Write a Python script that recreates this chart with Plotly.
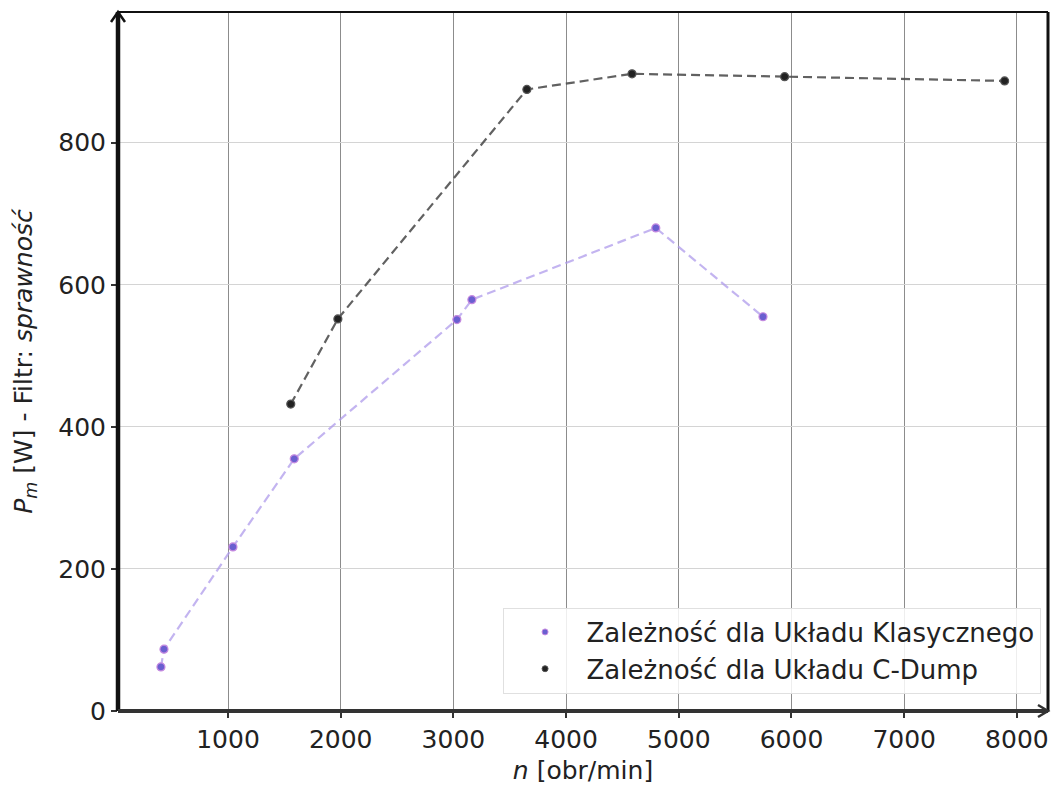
import plotly.graph_objects as go

# Data
klas_n = [405, 432, 1044, 1588, 3031, 3164, 4796, 5747]
klas_p = [62, 87, 231, 355, 551, 579, 680, 555]
cdump_n = [1557, 1975, 3652, 4585, 5939, 7891]
cdump_p = [432, 552, 875, 897, 893, 887]

x_ticks = [1000, 2000, 3000, 4000, 5000, 6000, 7000, 8000]
y_ticks = [0, 200, 400, 600, 800]

name_klas = "Zależność dla Układu Klasycznego"
name_cdump = "Zależność dla Układu C-Dump"

FONT = "DejaVu Sans"

fig = go.Figure()

# dashed connecting lines (not in legend)
fig.add_trace(go.Scatter(x=klas_n, y=klas_p, mode="lines", showlegend=False,
                         line=dict(color="rgba(175,155,235,0.75)", width=2.2, dash="9px,5px"),
                         hoverinfo="skip"))
fig.add_trace(go.Scatter(x=cdump_n, y=cdump_p, mode="lines", showlegend=False,
                         line=dict(color="rgba(80,80,80,0.9)", width=2.2, dash="9px,5px"),
                         hoverinfo="skip"))
# markers
fig.add_trace(go.Scatter(x=klas_n, y=klas_p, mode="markers", showlegend=False,
                         name=name_klas,
                         marker=dict(color="#6a5fd0", size=8,
                                     line=dict(color="#c68ae0", width=1.2))))
fig.add_trace(go.Scatter(x=cdump_n, y=cdump_p, mode="markers", showlegend=False,
                         name=name_cdump,
                         marker=dict(color="#222222", size=8,
                                     line=dict(color="#555555", width=1.2))))
# legend entries (smaller symbols, as in the reference)
fig.add_trace(go.Scatter(x=[None], y=[None], mode="markers", name=name_klas,
                         marker=dict(color="#6a5fd0", size=6,
                                     line=dict(color="#c68ae0", width=1))))
fig.add_trace(go.Scatter(x=[None], y=[None], mode="markers", name=name_cdump,
                         marker=dict(color="#222222", size=6,
                                     line=dict(color="#555555", width=1))))

fig.update_layout(
    width=1052, height=787,
    margin=dict(l=118, r=4, t=12, b=76),
    paper_bgcolor="white", plot_bgcolor="white",
    font=dict(family=FONT, size=25, color="#222"),
    legend=dict(x=0.992, y=0.025, xanchor="right", yanchor="bottom",
                bgcolor="rgba(255,255,255,0.85)", bordercolor="#e0e0e0", borderwidth=1,
                font=dict(family=FONT, size=26, color="#222"),
                itemwidth=73, tracegroupgap=0),
    xaxis=dict(range=[24, 8276], tickvals=x_ticks, ticktext=[str(v) for v in x_ticks],
               showgrid=True, gridcolor="#8c8c8c", gridwidth=1,
               showline=False, zeroline=False,
               ticks="outside", ticklen=6, tickwidth=2, tickcolor="#333",
               tickfont=dict(family=FONT, size=25, color="#222"),
               title=dict(text="<i>n</i> [obr/min]", font=dict(family=FONT, size=25, color="#222"),
                          standoff=8)),
    yaxis=dict(range=[0, 984], tickvals=y_ticks, ticktext=[str(v) for v in y_ticks],
               showgrid=True, gridcolor="#d4d4d4", gridwidth=1,
               showline=False, zeroline=False,
               ticks="outside", ticklen=6, tickwidth=2, tickcolor="#333",
               tickfont=dict(family=FONT, size=25, color="#222"),
               title=dict(text="<i>P<sub>m</sub></i> [W] - Filtr: <i>sprawność</i>",
                          font=dict(family=FONT, size=25, color="#222"), standoff=18)),
)

# spines
shapes = [
    dict(type="line", xref="paper", yref="paper", x0=0, x1=0, y0=0, y1=1,
         line=dict(color="#111", width=4.5)),
    dict(type="line", xref="paper", yref="paper", x0=0, x1=1, y0=0, y1=0,
         line=dict(color="#333", width=4)),
    dict(type="line", xref="paper", yref="paper", x0=0, x1=1, y0=1, y1=1,
         line=dict(color="#111", width=2)),
    dict(type="line", xref="paper", yref="paper", x0=1, x1=1, y0=0, y1=1,
         line=dict(color="#111", width=3)),
]
# arrow chevrons at the ends of the left and bottom spines
pw, ph = 1052 - 118 - 4, 787 - 12 - 76
dx, dy = 7 / pw, 10 / ph
shapes.append(dict(type="path", xref="paper", yref="paper",
                   path=f"M {-dx},{1 - dy} L 0,1 L {dx},{1 - dy}",
                   line=dict(color="#111", width=2.5)))
dx2, dy2 = 10 / pw, 6 / ph
shapes.append(dict(type="path", xref="paper", yref="paper",
                   path=f"M {1 - dx2},{dy2} L 1,0 L {1 - dx2},{-dy2}",
                   line=dict(color="#333", width=2.5)))
fig.update_layout(shapes=shapes)

fig.write_html("out.html")
